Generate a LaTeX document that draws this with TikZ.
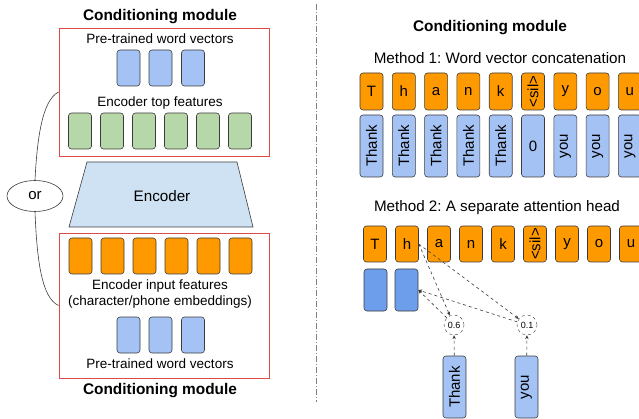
\documentclass[tikz,border=0pt]{standalone}
\usepackage{fontspec}
\setmainfont{Liberation Sans}
\usetikzlibrary{arrows.meta,shapes.geometric}
\frenchspacing
\definecolor{feat-orange}{HTML}{FF9900}
\definecolor{word-blue}{HTML}{A4C2F4}
\definecolor{head-blue}{HTML}{6D9EEB}
\definecolor{top-green}{HTML}{B6D7A8}
\definecolor{enc-blue}{HTML}{CFE2F3}
\definecolor{module-red}{HTML}{DD4A4A}
\definecolor{edge-gray}{HTML}{3C3C3C}
\newcommand{\vword}[1]{\rotatebox{90}{#1}}
\newcommand{\siltext}{\vword{<sil>}}
\tikzset{
    vec-box/.style = {draw=edge-gray, rectangle, rounded corners=3pt, line width=0.6pt, inner sep=0pt, minimum width=23pt, minimum height=36pt},
    char-box/.style = {vec-box, fill=feat-orange, font=\fontsize{15}{17}\selectfont},
    word-box/.style = {vec-box, fill=word-blue, font=\fontsize{15}{17}\selectfont},
    top-box/.style = {vec-box, fill=top-green},
    head-box/.style = {vec-box, fill=head-blue, minimum height=42pt},
    module-box/.style = {draw=module-red, line width=0.8pt, rectangle, inner sep=0pt},
    module-title/.style = {font=\fontsize{15.4}{17}\selectfont\bfseries},
    small-label/.style = {font=\fontsize{13.5}{16}\selectfont, align=center},
    big-label/.style = {font=\fontsize{15.2}{17}\selectfont},
    weight/.style = {circle, draw=edge-gray, dashed, fill=white, inner sep=0pt, minimum size=20pt, font=\fontsize{9}{10}\selectfont},
    attn/.style = {draw=edge-gray, dashed, line width=0.6pt, -{Stealth[length=4pt,width=3.5pt]}},
}

\begin{document}
\begin{tikzpicture}[x=1pt, y=-1pt]
\useasboundingbox (0,0) rectangle (639,419);

\node [module-title] (left-title-top) at (160,17) {Conditioning module};
\node [module-box, minimum width=210pt, minimum height=128pt] (top-module) at (164,92) {};
\node [small-label] (top-word-label) at (160,39) {Pre-trained word vectors};
\foreach \x [count=\i] in {128.5,160.5,193}
    \node [word-box] (top-word-\i) at (\x,68) {};
\node [small-label] (top-feat-label) at (160,103) {Encoder top features};
\foreach \i in {0,...,5}
    \node [top-box] (top-feat-\i) at (80+32*\i,131) {};

\draw [draw=edge-gray, fill=enc-blue, line width=0.6pt] (87,162) -- (237,162) -- (253,227) -- (69,227) -- cycle;
\node [big-label] (encoder) at (162,196) {Encoder};

\node [module-box, minimum width=210pt, minimum height=145pt] (bottom-module) at (164,305.5) {};
\foreach \i in {0,...,5}
    \node [char-box] (input-feat-\i) at (80.5+32*\i,256) {};
\node [small-label] (input-feat-label) at (160,294) {Encoder input features\\(character/phone embeddings)};
\foreach \x [count=\i] in {128.5,160.5,193}
    \node [word-box] (bottom-word-\i) at (\x,335) {};
\node [small-label] (bottom-word-label) at (160,364) {Pre-trained word vectors};
\node [module-title] (left-title-bottom) at (160,391) {Conditioning module};

\node [ellipse, draw=edge-gray, line width=0.6pt, minimum width=56pt, minimum height=31pt, inner sep=0pt, font=\fontsize{15}{17}\selectfont] (or) at (35,196) {or};
\draw [edge-gray, line width=0.6pt] (top-module.west) .. controls (42,100) and (37,140) .. (or.north);
\draw [edge-gray, line width=0.6pt] (or.south) .. controls (37,262) and (42,298) .. (bottom-module.west);

\draw [gray, line width=0.7pt, dash pattern=on 6pt off 2pt on 1pt off 2pt] (316,4) -- (316,402);

\node [module-title] (right-title) at (490,28) {Conditioning module};
\node [big-label] (method-1) at (500,58) {Method 1: Word vector concatenation};
\foreach \c [count=\i from 0] in {T,h,a,n,k,\siltext,y,o,u}
    \node [char-box, minimum height=37pt] (m1-char-\i) at (371.5+32.3*\i,91.5) {\c};
\foreach \w [count=\i from 0] in {\vword{Thank},\vword{Thank},\vword{Thank},\vword{Thank},\vword{Thank},0,\vword{you},\vword{you},\vword{you}}
    \node [word-box, minimum height=62pt] (m1-word-\i) at (371.5+32.3*\i,146) {\w};

\node [big-label] (method-2) at (497,208) {Method 2: A separate attention head};
\foreach \c [count=\i from 0] in {T,h,a,n,k,\siltext,y,o,u}
    \node [char-box] (m2-char-\i) at (375+32*\i,244) {\c};
\node [head-box] (m2-head-0) at (375.5,290) {};
\node [head-box] (m2-head-1) at (406.5,290) {};
\node [weight] (w-thank) at (454,325) {0.6};
\node [weight] (w-you) at (527,325) {0.1};
\node [word-box, minimum height=62pt] (m2-thank) at (454.5,387) {\vword{Thank}};
\node [word-box, minimum height=62pt] (m2-you) at (526.5,387) {\vword{you}};

\draw [attn] (m2-thank) -- (w-thank);
\draw [attn] (m2-you) -- (w-you);
\draw [attn] (m2-char-1.east) -- (w-thank);
\draw [attn] (m2-char-1.east) -- (w-you);
\draw [attn] (w-thank) -- (m2-head-1.east);
\draw [attn] (w-you) -- (m2-head-1.east);
\end{tikzpicture}
\end{document}
